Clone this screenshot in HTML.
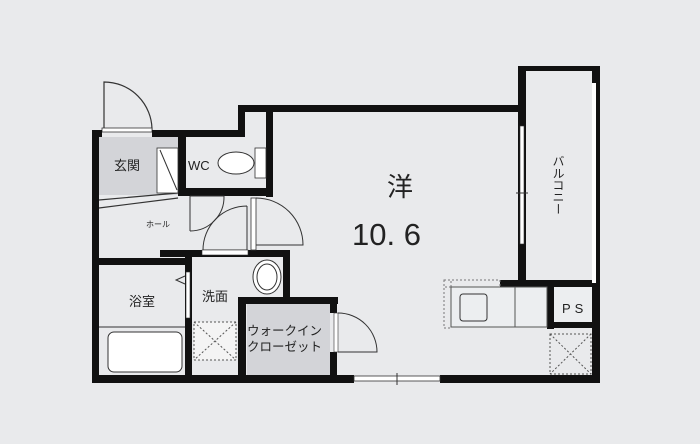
<!DOCTYPE html>
<html><head><meta charset="utf-8"><style>
body{margin:0;background:#e9eaec;}
svg{display:block}
text{font-family:"Liberation Sans","Noto Sans CJK JP",sans-serif;fill:#222}
</style></head><body>
<svg width="700" height="444" viewBox="0 0 700 444" xmlns="http://www.w3.org/2000/svg">
<rect width="700" height="444" fill="#e9eaec"/>
<rect x="99" y="137" width="80" height="58" fill="#d3d4d8"/>
<rect x="247" y="304" width="83" height="71" fill="#d3d4d8"/>
<path d="M104 130 V82 A48 48 0 0 1 152 130" fill="none" stroke="#333" stroke-width="1.2"/>
<rect x="102" y="128" width="50" height="4" fill="#fff" stroke="#333" stroke-width="0.8"/>
<g fill="#111">
<rect x="92" y="130" width="7" height="253"/>
<rect x="92" y="130" width="10" height="7"/>
<rect x="152" y="130" width="93" height="7"/>
<rect x="238" y="105" width="7" height="32"/>
<rect x="238" y="105" width="282" height="7"/>
<rect x="266" y="112" width="7" height="85"/>
<rect x="178" y="137" width="8" height="58"/>
<rect x="178" y="188" width="95" height="8"/>
<rect x="160" y="250" width="130" height="7"/>
<rect x="99" y="258" width="90" height="7"/>
<rect x="185" y="257" width="7" height="118"/>
<rect x="283" y="250" width="7" height="50"/>
<rect x="238" y="297" width="100" height="7"/>
<rect x="238" y="297" width="8" height="80"/>
<rect x="330" y="297" width="7" height="16"/>
<rect x="330" y="352" width="7" height="25"/>
<rect x="92" y="375" width="262" height="8"/>
<rect x="440" y="375" width="160" height="8"/>
<rect x="518" y="66" width="82" height="5"/>
<rect x="518" y="66" width="8" height="221"/>
<rect x="592" y="66" width="8" height="317"/>
<rect x="500" y="280" width="100" height="7"/>
<rect x="547" y="287" width="7" height="42"/>
<rect x="547" y="322" width="53" height="6"/>
<rect x="592" y="83" width="4" height="200" fill="#fff"/>
</g>
<rect x="520" y="126" width="4" height="118" fill="#fff" stroke="#333" stroke-width="0.6"/>
<line x1="516" y1="193" x2="528" y2="193" stroke="#333"/>
<rect x="354" y="376" width="86" height="5" fill="#fff" stroke="#333" stroke-width="0.8"/>
<line x1="397" y1="373" x2="397" y2="385" stroke="#333"/>
<path d="M99 200 L178 193 M99 208 L178 198" stroke="#333" stroke-width="1.2" fill="none"/>
<rect x="157" y="148" width="21" height="45" fill="#fff" stroke="#333" stroke-width="0.8"/>
<line x1="160" y1="150" x2="177" y2="190" stroke="#333"/>
<ellipse cx="236" cy="163" rx="18" ry="11" fill="#fff" stroke="#333"/>
<rect x="255" y="148" width="11" height="30" fill="#fff" stroke="#333" stroke-width="0.8"/>
<text x="188" y="170" font-size="13">WC</text>
<path d="M190 196 V231 M190 196 H224 A34 34 0 0 1 190 231" fill="none" stroke="#333" stroke-width="1"/>
<path d="M247 206 V250 M247 250 H203 A44 44 0 0 1 247 206" fill="none" stroke="#333" stroke-width="1"/>
<rect x="251" y="198" width="5" height="52" fill="#fff" stroke="#333" stroke-width="0.8"/>
<path d="M256 198 A47 47 0 0 1 303 245 H256" fill="none" stroke="#333"/>
<rect x="202" y="250" width="46" height="5" fill="#fff" stroke="#333" stroke-width="0.6"/>
<ellipse cx="267" cy="277" rx="14" ry="17" fill="#fff" stroke="#333"/>
<ellipse cx="267" cy="277" rx="10" ry="13" fill="none" stroke="#333"/>
<rect x="108" y="332" width="74" height="40" rx="6" fill="#fff" stroke="#333"/>
<line x1="99" y1="327" x2="185" y2="327" stroke="#333"/>
<rect x="186" y="272" width="4" height="46" fill="#fff" stroke="#333" stroke-width="0.6"/>
<path d="M185 276 L176 280 L185 284" fill="none" stroke="#333"/>
<rect x="194" y="322" width="42" height="38" fill="#f4f4f4" stroke="#555" stroke-dasharray="2 2"/>
<path d="M194 322 L236 360 M236 322 L194 360" stroke="#555" stroke-dasharray="2 2"/>
<rect x="334" y="313" width="4" height="39" fill="#fff" stroke="#333" stroke-width="0.6"/>
<path d="M338 313 A39 39 0 0 1 377 352 H338" fill="none" stroke="#333"/>
<rect x="444" y="280" width="56" height="7" fill="none" stroke="#777" stroke-dasharray="2 2"/>
<rect x="444" y="280" width="7" height="48" fill="none" stroke="#777" stroke-dasharray="2 2"/>
<rect x="451" y="287" width="96" height="40" fill="#eceef0" stroke="#555"/>
<line x1="515" y1="287" x2="515" y2="327" stroke="#555"/>
<rect x="460" y="294" width="27" height="27" rx="3" fill="none" stroke="#333"/>
<rect x="554" y="287" width="38" height="35" fill="#eceef0"/>
<text x="562" y="313" font-size="13" letter-spacing="4">PS</text>
<rect x="550" y="334" width="41" height="40" fill="none" stroke="#555" stroke-dasharray="2 2"/>
<path d="M550 334 L591 374 M591 334 L550 374" stroke="#555" stroke-dasharray="2 2"/>
<text x="114" y="170" font-size="13">玄関</text>
<text x="146" y="227" font-size="8">ホール</text>
<text x="129" y="306" font-size="13">浴室</text>
<text x="202" y="301" font-size="13">洗面</text>
<text x="247" y="335" font-size="12.5">ウォークイン</text>
<text x="247" y="351" font-size="12.5">クローゼット</text>
<text x="387" y="196" font-size="26">洋</text>
<text x="352" y="245" font-size="31" fill="#333">10. 6</text>
<text x="558" y="155" font-size="12" style="writing-mode:vertical-rl">バルコニー</text>
</svg>
</body></html>
